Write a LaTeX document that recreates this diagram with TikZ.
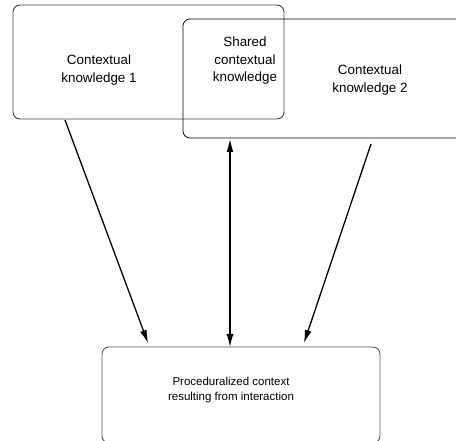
\documentclass[tikz,border=0pt]{standalone}
\usepackage{fontspec}
\setmainfont{Liberation Sans}
\usetikzlibrary{arrows.meta}

\tikzset{
  ctxbox/.style={draw,rounded corners=7pt,minimum width=#1,inner sep=0pt},
  ctxtext/.style={align=center,font=\fontsize{13.4}{17.5}\selectfont},
  flow/.style={line width=1.3pt,-{Latex[length=13pt,width=7pt]}}
}

\begin{document}
\begin{tikzpicture}[x=1pt,y=-1pt]
      \clip (0,0) rectangle (456,441);
      \node[ctxbox=271pt,minimum height=114pt,draw=black!75,line width=0.9pt] (ck1) at (148.5,62) {};
      \node[ctxbox=317pt,minimum height=119pt,line width=0.7pt] (ck2) at (341.5,78.5) {};
      \node[ctxbox=278pt,minimum height=96pt,draw=black!65,line width=0.9pt] (proc) at (241,395) {};
      \node[ctxtext] (t1) at (99,70) {Contextual\\knowledge 1};
      \node[ctxtext] (ts) at (245,61) {Shared\\contextual\\knowledge};
      \node[ctxtext] (t2) at (370,80) {Contextual\\knowledge 2};
      \node[align=center,font=\fontsize{11.5}{15.5}\selectfont] (tp) at (231,390)
        {Proceduralized context\\resulting from interaction};
      % arrow ends
      \coordinate (a1) at (65,120);
      \coordinate (b1) at (148,343);
      \coordinate (a2) at (230,139);
      \coordinate (b2) at (230,347);
      \coordinate (a3) at (371,144);
      \coordinate (b3) at (304,343);
      \draw[flow] (a1) -- (b1);
      \draw[flow,{Latex[length=13pt,width=7pt]}-{Latex[length=13pt,width=7pt]}] (a2) -- (b2);
      \draw[flow] (a3) -- (b3);
\end{tikzpicture}
\end{document}
